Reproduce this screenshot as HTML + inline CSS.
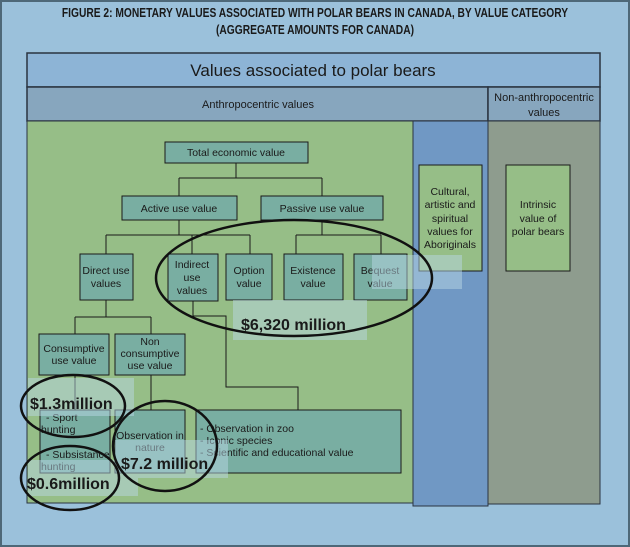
<!DOCTYPE html>
<html><head><meta charset="utf-8"><style>
html,body{margin:0;padding:0;background:#9BC1DB;}
svg{display:block}
text{font-family:"Liberation Sans",sans-serif;fill:#1a1a1a}
</style></head><body>
<svg width="630" height="547" viewBox="0 0 630 547" xmlns="http://www.w3.org/2000/svg">
<rect x="1" y="1" width="628" height="545" fill="#9BC1DB" stroke="#4e6878" stroke-width="2"/>
<text x="315" y="17" text-anchor="middle" font-size="12.5" font-weight="bold" transform="scale(0.82,1)" style="transform-origin:315px 0">FIGURE 2: MONETARY VALUES ASSOCIATED WITH POLAR BEARS IN CANADA, BY VALUE CATEGORY</text>
<text x="315" y="34" text-anchor="middle" font-size="12.5" font-weight="bold" transform="scale(0.82,1)" style="transform-origin:315px 0">(AGGREGATE AMOUNTS FOR CANADA)</text>
<!-- header -->
<rect x="27" y="53" width="573" height="34" fill="#8DB4D6" stroke="#2a3440" stroke-width="1.5"/>
<text x="313" y="76" text-anchor="middle" font-size="17">Values associated to polar bears</text>
<rect x="27" y="87" width="461" height="34" fill="#87A6BE" stroke="#2a3440" stroke-width="1.5"/>
<rect x="488" y="87" width="112" height="34" fill="#87A6BE" stroke="#2a3440" stroke-width="1.5"/>
<text x="258" y="108" text-anchor="middle" font-size="11">Anthropocentric values</text>
<text x="544" y="101" text-anchor="middle" font-size="11">Non-anthropocentric</text>
<text x="544" y="116" text-anchor="middle" font-size="11">values</text>
<!-- columns -->
<rect x="27" y="121" width="386" height="382" fill="#96BE87" stroke="#2a3440" stroke-width="1"/>
<rect x="413" y="121" width="75" height="385" fill="#7098C4" stroke="#2a3440" stroke-width="1"/>
<rect x="488" y="121" width="112" height="383" fill="#8E9C8E" stroke="#2a3440" stroke-width="1"/>
<rect x="419" y="165" width="63" height="106" fill="#96BE87" stroke="#1a1a1a"/>
<g font-size="10.5" text-anchor="middle">
<text x="450" y="195">Cultural,</text><text x="450" y="208">artistic and</text><text x="450" y="222">spiritual</text><text x="450" y="235">values for</text><text x="450" y="248">Aboriginals</text>
</g>
<rect x="506" y="165" width="64" height="106" fill="#96BE87" stroke="#1a1a1a"/>
<g font-size="10.5" text-anchor="middle">
<text x="538" y="208">Intrinsic</text><text x="538" y="222">value of</text><text x="538" y="235">polar bears</text>
</g>
<!-- connectors -->
<g stroke="#1a1a1a" fill="none" stroke-width="1">
<path d="M236 163V178M179 178H322M179 178V196M322 178V196"/>
<path d="M179 220V235M106 235H250M106 235V254M192 235V254M250 235V254"/>
<path d="M322 220V235M296 235H381M296 235V254M381 235V254"/>
<path d="M106 300V317M75 317H151M75 317V334M151 317V334"/>
<path d="M75 375V410M151 375V410"/>
<path d="M193 301V316H226V387H298V410"/>
</g>
<!-- nodes -->
<g fill="#79AEA2" stroke="#1a1a1a" stroke-width="1">
<rect x="165" y="142" width="143" height="21"/>
<rect x="122" y="196" width="115" height="24"/>
<rect x="261" y="196" width="122" height="24"/>
<rect x="80" y="254" width="53" height="46"/>
<rect x="168" y="254" width="50" height="47"/>
<rect x="226" y="254" width="46" height="46"/>
<rect x="284" y="254" width="59" height="46"/>
<rect x="354" y="254" width="53" height="46"/>
<rect x="39" y="334" width="70" height="41"/>
<rect x="115" y="334" width="70" height="41"/>
<rect x="40" y="410" width="70" height="63"/>
<rect x="115" y="410" width="70" height="63"/>
<rect x="196" y="410" width="205" height="63"/>
</g>
<g font-size="10.5" text-anchor="middle">
<text x="236" y="156">Total economic value</text>
<text x="179" y="212">Active use value</text>
<text x="322" y="212">Passive use value</text>
<text x="106" y="274">Direct use</text><text x="106" y="287">values</text>
<text x="192" y="268">Indirect</text><text x="192" y="281">use</text><text x="192" y="294">values</text>
<text x="249" y="274">Option</text><text x="249" y="287">value</text>
<text x="313" y="274">Existence</text><text x="313" y="287">value</text>
<text x="380" y="274">Bequest</text><text x="380" y="287">value</text>
<text x="74" y="352">Consumptive</text><text x="74" y="364">use value</text>
<text x="150" y="345">Non</text><text x="150" y="357">consumptive</text><text x="150" y="369">use value</text>
<text x="150" y="439">Observation in</text><text x="150" y="451" fill="#556">nature</text>
</g>
<g font-size="10.5">
<text x="46" y="421">- Sport</text><text x="41" y="433">hunting</text>
<text x="46" y="458">- Subsistance</text><text x="41" y="470" fill="#556">hunting</text>
<text x="200" y="432">- Observation in zoo</text>
<text x="200" y="444">- Iconic species</text>
<text x="200" y="456">- Scientific and educational value</text>
</g>
<!-- translucent overlays -->
<g fill="#B8D6E4" opacity="0.5">
<rect x="233" y="300" width="134" height="40"/>
<rect x="372" y="255" width="90" height="34"/>
<rect x="28" y="378" width="106" height="38"/>
<rect x="115" y="440" width="113" height="38"/>
<rect x="28" y="460" width="110" height="36"/>
</g>
<g font-weight="bold" fill="#1a1a1a">
<text x="241" y="330" font-size="16">$6,320 million</text>
<text x="30" y="409" font-size="16">$1.3million</text>
<text x="121" y="469" font-size="16">$7.2 million</text>
<text x="27" y="489" font-size="16">$0.6million</text>
</g>
<!-- ellipses -->
<g fill="none" stroke="#111" stroke-width="2.5">
<ellipse cx="294" cy="278" rx="138" ry="58"/>
<ellipse cx="73" cy="406" rx="52" ry="31"/>
<ellipse cx="70" cy="478" rx="49" ry="32"/>
<ellipse cx="165" cy="446" rx="52" ry="45"/>
</g>
</svg>
</body></html>
